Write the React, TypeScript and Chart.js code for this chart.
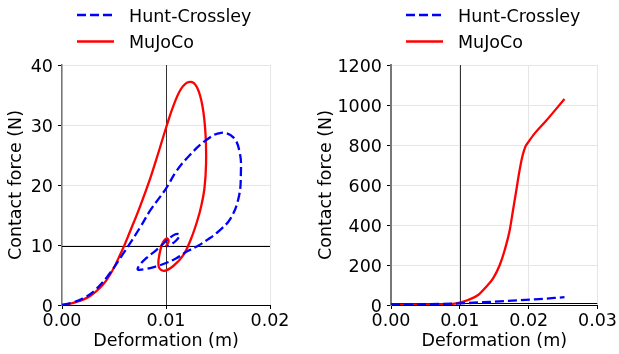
import { useEffect, useRef } from "react";
import { Chart, registerables } from "chart.js";

Chart.register(...registerables);

// ---------- data ----------
const seriesNames = ["Hunt-Crossley", "MuJoCo"];

// Left panel (0 - 0.02 m)
const leftHuntX = [0, 0.001, 0.002, 0.003, 0.0043, 0.0059, 0.0075, 0.0085, 0.01, 0.011, 0.0123, 0.0138, 0.0153, 0.0165, 0.0171, 0.0172, 0.017, 0.0162, 0.015, 0.014, 0.013, 0.012, 0.011, 0.01, 0.009, 0.008, 0.0073, 0.0074, 0.0081, 0.0091, 0.0101, 0.0109, 0.0113, 0.011, 0.0104, 0.0101];
const leftHuntY = [0, 0.4, 1.1, 2.2, 4.6, 8.6, 12.9, 15.8, 19.4, 22.3, 25.0, 27.4, 28.7, 27.9, 25.3, 22.0, 18.0, 14.4, 12.2, 10.9, 9.8, 8.9, 7.8, 7.0, 6.4, 6.0, 5.9, 6.5, 7.8, 9.2, 10.8, 11.8, 11.7, 10.8, 10.0, 9.8];

const leftMujocoX = [0, 0.001, 0.0027, 0.0043, 0.0057, 0.0066, 0.0075, 0.0085, 0.0092, 0.01, 0.0108, 0.0116, 0.0124, 0.013, 0.0135, 0.0138, 0.01385, 0.0137, 0.0134, 0.013, 0.0124, 0.0117, 0.0107, 0.0098, 0.0093, 0.0094, 0.0097, 0.0101, 0.01025, 0.01];
const leftMujocoY = [0, 0.3, 1.5, 4.2, 8.8, 12.5, 16.4, 21.2, 25.0, 29.5, 33.6, 36.4, 37.2, 36.2, 33.2, 28.5, 23.5, 19.5, 16.6, 14.0, 11.0, 8.4, 6.5, 5.7, 6.4, 8.7, 10.4, 11.1, 10.6, 9.8];

// Right panel (0 - 0.03 m)
const rightHuntX = [0, 0.005, 0.01, 0.015, 0.0209, 0.0252];
const rightHuntY = [2, 4, 8, 17, 28, 39];

const rightMujocoX = [0, 0.005, 0.009, 0.01, 0.0112, 0.01266, 0.01386, 0.01483, 0.0158, 0.01652, 0.01725, 0.01773, 0.01821, 0.0186, 0.01908, 0.01952, 0.02, 0.02087, 0.0225, 0.0252];
const rightMujocoY = [2, 3, 6, 12, 25, 50, 92, 133, 200, 275, 375, 475, 575, 658, 742, 792, 817, 858, 920, 1030];

// axis ticks / ranges
const leftXTicks = [0, 0.01, 0.02];
const leftYTicks = [0, 10, 20, 30, 40];
const rightXTicks = [0, 0.01, 0.02, 0.03];
const rightYTicks = [0, 200, 400, 600, 800, 1000, 1200];

// reference lines
const refDeformation = 0.01;
const refForce = 9.81;

const xTitle = "Deformation (m)";
const yTitle = "Contact force (N)";

// ---------- helpers ----------
const FONT = "DejaVu Sans";
const FSIZE = 17.5;
const zip = (xs: number[], ys: number[]) => xs.map((x, i) => ({ x, y: ys[i] }));

const refLinesPlugin = {
  id: "refLines",
  beforeDatasetsDraw(chart: any, _args: any, opts: any) {
    const { ctx, chartArea, scales } = chart;
    ctx.save();
    ctx.beginPath();
    ctx.rect(chartArea.left, chartArea.top, chartArea.right - chartArea.left, chartArea.bottom - chartArea.top);
    ctx.clip();
    ctx.lineWidth = 1;
    ctx.setLineDash([]);
    const px = Math.round(scales.x.getPixelForValue(opts.x)) + 0.5;
    ctx.strokeStyle = "#333";
    ctx.beginPath();
    ctx.moveTo(px, chartArea.top);
    ctx.lineTo(px, chartArea.bottom);
    ctx.stroke();
    const py = Math.round(scales.y.getPixelForValue(opts.y)) + 0.5;
    ctx.strokeStyle = "#000";
    ctx.beginPath();
    ctx.moveTo(chartArea.left, py);
    ctx.lineTo(chartArea.right, py);
    ctx.stroke();
    ctx.restore();
  },
};

// y tick labels, drawn slightly below the tick (matplotlib-like centring)
const yLabelsPlugin = {
  id: "yLabels",
  afterDraw(chart: any) {
    const { ctx, chartArea, scales } = chart;
    const y = scales.y;
    ctx.save();
    ctx.fillStyle = "#000";
    ctx.font = `${FSIZE}px "${FONT}"`;
    ctx.textAlign = "right";
    ctx.textBaseline = "middle";
    y.ticks.forEach((t: any) => {
      ctx.fillText(String(t.value), chartArea.left - 9, y.getPixelForValue(t.value) + 2);
    });
    ctx.restore();
  },
};

const lineLegendPlugin = {
  id: "lineLegend",
  afterDraw(chart: any) {
    const { ctx, chartArea } = chart;
    const left = chartArea.left;
    const rows = [
      { y: 15, base: 22 },
      { y: 41.5, base: 48 },
    ];
    chart.data.datasets.forEach((ds: any, i: number) => {
      const r = rows[i];
      ctx.save();
      ctx.strokeStyle = ds.borderColor;
      ctx.lineWidth = ds.borderWidth;
      ctx.setLineDash(ds.borderDash || []);
      ctx.beginPath();
      ctx.moveTo(left + 15, r.y);
      ctx.lineTo(left + 52, r.y);
      ctx.stroke();
      ctx.setLineDash([]);
      ctx.fillStyle = "#000";
      ctx.font = `${FSIZE}px "${FONT}"`;
      ctx.textBaseline = "alphabetic";
      ctx.textAlign = "left";
      ctx.fillText(ds.label, left + 67, r.base);
      ctx.restore();
    });
  },
};

function makeConfig(
  hunt: { x: number; y: number }[],
  mujoco: { x: number; y: number }[],
  xTicks: number[],
  yTicks: number[],
  yWidth: number,
  rightPad: number,
  yBorderWidth: number,
  monotone: boolean
): any {
  const font = { family: FONT, size: FSIZE };
  const interp = monotone ? { cubicInterpolationMode: "monotone" } : { tension: 0.4 };
  return {
    type: "scatter",
    data: {
      datasets: [
        {
          label: seriesNames[0],
          data: hunt,
          showLine: true,
          borderColor: "#0000ff",
          borderWidth: 2.3,
          borderDash: [9, 4],
          pointRadius: 0,
          fill: false,
          ...interp,
        },
        {
          label: seriesNames[1],
          data: mujoco,
          showLine: true,
          borderColor: "#ff0000",
          borderWidth: 2.3,
          pointRadius: 0,
          fill: false,
          ...interp,
        },
      ],
    },
    options: {
      responsive: false,
      animation: false,
      devicePixelRatio: 1,
      layout: { padding: { top: 65, right: rightPad, left: 0, bottom: 0 } },
      plugins: {
        legend: { display: false },
        tooltip: { enabled: false },
        refLines: { x: refDeformation, y: refForce },
      },
      scales: {
        x: {
          type: "linear",
          min: xTicks[0],
          max: xTicks[xTicks.length - 1],
          afterBuildTicks: (s: any) => {
            s.ticks = xTicks.map((v) => ({ value: v }));
          },
          ticks: {
            font,
            color: "#000",
            padding: 2,
            maxRotation: 0,
            autoSkip: false,
            callback: (v: any) => Number(v).toFixed(2),
          },
          grid: { color: "#e6e6e6", tickColor: "#000", tickLength: 4, lineWidth: 1 },
          border: { color: "#000", width: 1 },
          title: { display: true, text: xTitle, font, color: "#000", padding: { top: 0, bottom: 2 } },
          afterFit: (s: any) => {
            s.height = 49;
          },
        },
        y: {
          type: "linear",
          min: yTicks[0],
          max: yTicks[yTicks.length - 1],
          afterBuildTicks: (s: any) => {
            s.ticks = yTicks.map((v) => ({ value: v }));
          },
          ticks: { display: false, font },
          grid: { color: "#e6e6e6", tickColor: "#000", tickLength: 4, lineWidth: 1 },
          border: { color: "#777", width: yBorderWidth },
          title: { display: true, text: yTitle, font, color: "#000", padding: { top: 6, bottom: 0 } },
          afterFit: (s: any) => {
            s.width = yWidth;
          },
        },
      },
    },
    plugins: [refLinesPlugin, yLabelsPlugin, lineLegendPlugin],
  };
}

export default function App() {
  const leftRef = useRef<HTMLCanvasElement>(null);
  const rightRef = useRef<HTMLCanvasElement>(null);

  useEffect(() => {
    const c1 = new Chart(
      leftRef.current as HTMLCanvasElement,
      makeConfig(zip(leftHuntX, leftHuntY), zip(leftMujocoX, leftMujocoY), leftXTicks, leftYTicks, 62, 40, 1.5, false)
    );
    const c2 = new Chart(
      rightRef.current as HTMLCanvasElement,
      makeConfig(zip(rightHuntX, rightHuntY), zip(rightMujocoX, rightMujocoY), rightXTicks, rightYTicks, 81, 21, 2, true)
    );
    return () => {
      c1.destroy();
      c2.destroy();
    };
  }, []);

  return (
    <div style={{ position: "absolute", left: 0, top: 0, width: 619, height: 354, background: "#fff" }}>
      <canvas ref={leftRef} width={310} height={354} style={{ position: "absolute", left: 0, top: 0, width: 310, height: 354 }} />
      <canvas ref={rightRef} width={309} height={354} style={{ position: "absolute", left: 310, top: 0, width: 309, height: 354 }} />
    </div>
  );
}
